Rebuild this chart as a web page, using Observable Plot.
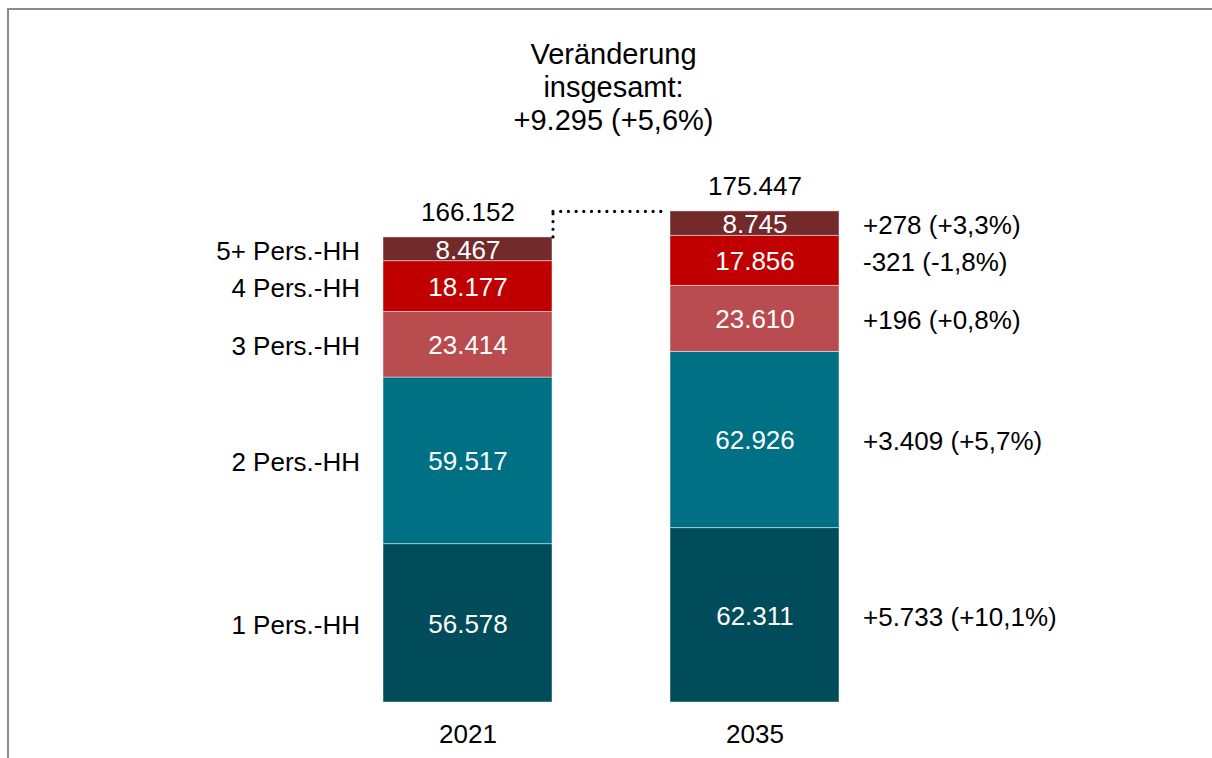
<!DOCTYPE html>
<html>
<head>
<meta charset="utf-8">
<script src="https://cdn.jsdelivr.net/npm/d3@7"></script>
<script src="https://cdn.jsdelivr.net/npm/@observablehq/plot@0.6"></script>
<style>
  html, body { margin: 0; padding: 0; background: #fff; }
  #wrap { position: relative; width: 1212px; height: 758px; overflow: hidden; }
  #frame { position: absolute; left: 7px; top: 8px; width: 1300px; height: 900px;
           border-left: 2px solid #8a8a8a; border-top: 2px solid #8a8a8a; box-sizing: border-box; }
  #chart { position: absolute; left: 0; top: 0; }
  svg { font-family: "Liberation Sans", Arial, sans-serif; }
</style>
</head>
<body>
<div id="wrap"><div id="frame"></div><div id="chart"></div></div>
<script>
const years = ["2021", "2035"];
const categories = ["1 Pers.-HH", "2 Pers.-HH", "3 Pers.-HH", "4 Pers.-HH", "5+ Pers.-HH"];
const values2021 = [56578, 59517, 23414, 18177, 8467];
const values2035 = [62311, 62926, 23610, 17856, 8745];
const totals = [166152, 175447];
const colors = ["#004c5a", "#007185", "#b84c4e", "#c00000", "#722a2b"];

const de = d3.formatLocale({decimal: ",", thousands: ".", grouping: [3], currency: ["", " €"], minus: "-"});
const fmtInt = de.format(",d");
const fmtSignedInt = de.format("+,d");
const fmtPct = de.format("+.1f");

const rows = [];
years.forEach((yr, j) => {
  const vals = j === 0 ? values2021 : values2035;
  categories.forEach((c, i) => rows.push({year: yr, cat: c, value: vals[i]}));
});

const changes = categories.map((c, i) => {
  const d = values2035[i] - values2021[i];
  return {cat: c, label: `${fmtSignedInt(d)} (${fmtPct(d / values2021[i] * 100)}%)`};
});
const rowsWithChange = rows.map(r => ({...r, change: changes.find(c => c.cat === r.cat).label}));

const totalRows = years.map((yr, j) => ({year: yr, total: totals[j]}));
const totalChange = totals[1] - totals[0];
const titleText = `Veränderung\ninsgesamt:\n${fmtSignedInt(totalChange)} (${fmtPct(totalChange / totals[0] * 100)}%)`;

const FS = 26;

const chart = Plot.plot({
  width: 1212,
  height: 758,
  marginTop: 0,
  marginBottom: 56,
  marginLeft: 0,
  marginRight: 0,
  style: {fontFamily: "'Liberation Sans', Arial, sans-serif", fontSize: FS + "px", background: "transparent", overflow: "visible"},
  x: {domain: years, range: [383, 840], paddingInner: 0.41, paddingOuter: 0, label: null},
  y: {domain: [0, 250800], axis: null},
  color: {domain: categories, range: colors},
  marks: [
    Plot.barY(rows, {x: "year", y: "value", fill: "cat", stroke: "white", strokeOpacity: 0.45, strokeWidth: 1}),
    Plot.text(rows, Plot.stackY({x: "year", y: "value", text: d => fmtInt(d.value), fill: "white", fontSize: FS, dy: 1})),
    Plot.text(rows.filter(d => d.year === "2021"), Plot.stackY({x: "year", y: "value", text: "cat", textAnchor: "end", dx: -108, fill: "black", fontSize: FS, dy: 2})),
    Plot.text(rowsWithChange.filter(d => d.year === "2035"), Plot.stackY({x: "year", y: "value", text: "change", textAnchor: "start", dx: 108, fill: "black", fontSize: FS, dy: 2})),
    Plot.text(totalRows, {x: "year", y: "total", text: d => fmtInt(d.total), dy: -25, fill: "black", fontSize: FS}),
    Plot.ruleX([{year: "2021", y1: totals[0], y2: totals[1]}], {x: "year", y1: "y1", y2: "y2", dx: 85, stroke: "black", strokeWidth: 3.2, strokeDasharray: "0 7.7", strokeLinecap: "round"}),
    Plot.ruleY([{x1: "2021", x2: "2035", y: totals[1]}], {x1: "x1", x2: "x2", y: "y", insetLeft: 170, insetRight: 172, stroke: "black", strokeWidth: 3.2, strokeDasharray: "0 7.7", strokeLinecap: "round"}),
    Plot.text([titleText], {frameAnchor: "top", text: d => d, dx: 7, dy: 40, fontSize: 29, lineHeight: 1.14, fill: "black"}),
    Plot.axisX({tickSize: 0, tickPadding: 22, fontSize: FS, label: null, color: "black"})
  ]
});
document.getElementById("chart").appendChild(chart);
</script>
</body>
</html>
